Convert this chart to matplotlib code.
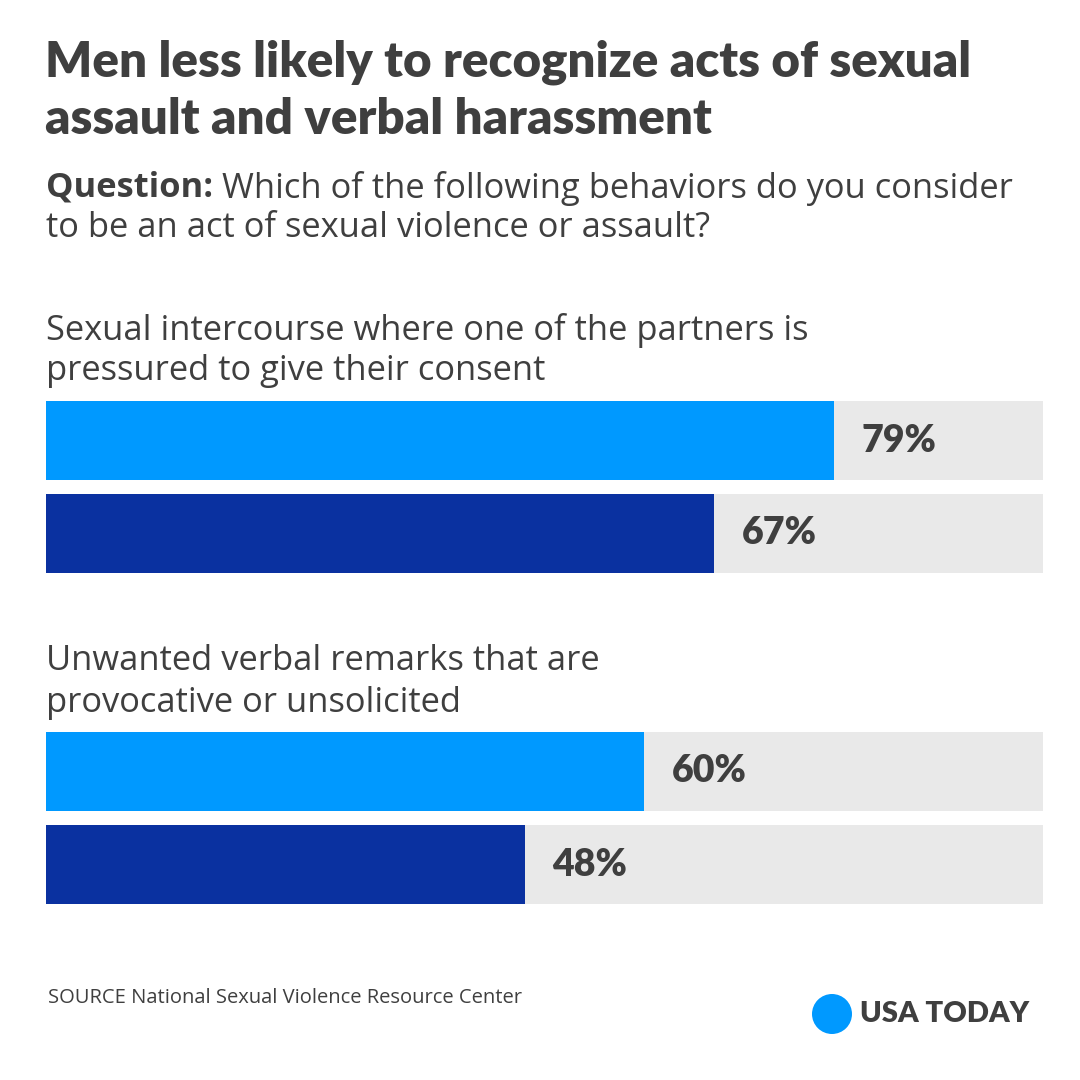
import matplotlib
matplotlib.use("Agg")
import matplotlib.pyplot as plt
from matplotlib.patches import Circle

title_lines = ["Men less likely to recognize acts of sexual",
               "assault and verbal harassment"]
question_bold = "Question:"
question_rest = " Which of the following behaviors do you consider"
question_line2 = "to be an act of sexual violence or assault?"
categories = ["Sexual intercourse where one of the partners is\npressured to give their consent",
              "Unwanted verbal remarks that are\nprovocative or unsolicited"]
women = [79, 60]
men = [67, 48]
source = "SOURCE National Sexual Violence Resource Center"
brand = "USA TODAY"

LIGHT = "#0099FF"
DARK = "#0A31A0"
GRAY = "#E9E9E9"
TEXT = "#3F3F3F"
TFONT = "Lato"
BFONT = "Open Sans"
BSIZE = 24.8

W = H = 1080
fig = plt.figure(figsize=(10.8, 10.8), dpi=100)
fig.patch.set_facecolor("white")

def px(x, y):
    return x / W, 1 - y / H

# Title
for i, line in enumerate(title_lines):
    fig.text(*px(45, 62 + i * 57), line, fontsize=35.5, fontweight="heavy",
             family=TFONT, color=TEXT, va="center", ha="left")

# Question
t = fig.text(*px(46, 188), question_bold, fontsize=BSIZE, fontweight="bold",
             family=BFONT, color=TEXT, va="center", ha="left")
fig.canvas.draw()
bb = t.get_window_extent()
fig.text(bb.x1 / W, 1 - 188 / H, question_rest, fontsize=BSIZE, family=BFONT,
         color=TEXT, va="center", ha="left")
fig.text(*px(46, 228), question_line2, fontsize=BSIZE, family=BFONT,
         color=TEXT, va="center", ha="left")

# Bars axes: data y units in pixels
ax = fig.add_axes([46 / W, 1 - 920 / H, 997 / W, 540 / H])
ax.set_xlim(0, 100)
ax.set_ylim(920, 380)
ax.axis("off")

group_top = [440.5, 771.5]
gap = 93
bh = 79
for g, cat in enumerate(categories):
    ys = [group_top[g], group_top[g] + gap]
    vals = [women[g], men[g]]
    cols = [LIGHT, DARK]
    ax.barh(ys, [100, 100], height=bh, color=GRAY, left=0)
    ax.barh(ys, vals, height=bh, color=cols)
    for y, v in zip(ys, vals):
        ax.annotate(f"{v}%", (v, y), xytext=(28, 0), textcoords="offset pixels",
                    fontsize=27, fontweight="heavy", family=TFONT, color=TEXT,
                    va="center", ha="left")
    lines = cat.split("\n")
    for i, line in enumerate(lines):
        fig.text(*px(46, group_top[g] - 110 + i * 41), line, fontsize=BSIZE,
                 family=BFONT, color=TEXT, va="center", ha="left")

# Source
fig.text(*px(48, 998), source, fontsize=14.5, family=BFONT, color=TEXT,
         va="center", ha="left")

# Brand
circ = Circle(px(832, 1014), 20 / W, transform=fig.transFigure,
              color=LIGHT, ec="none")
fig.patches.append(circ)
fig.text(*px(860, 1014), brand, fontsize=21, fontweight="heavy", family=TFONT,
         color=TEXT, va="center", ha="left")

fig.savefig("out.png", dpi=100, facecolor="white")
